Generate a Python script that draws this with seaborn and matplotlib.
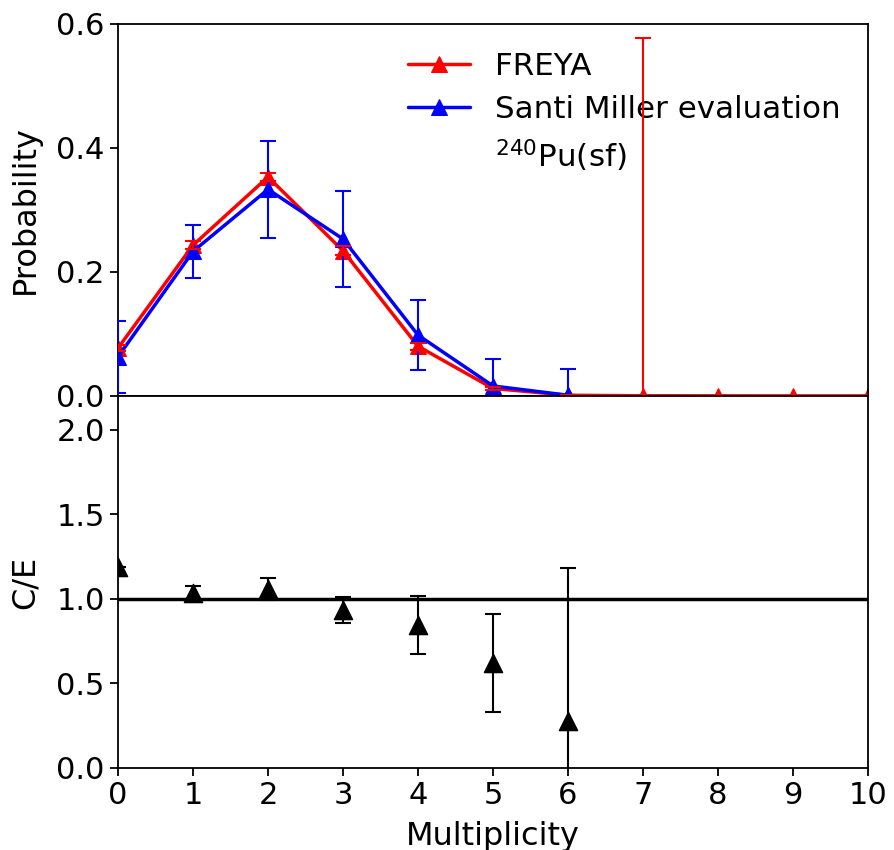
import numpy as np
import pandas as pd
import matplotlib
matplotlib.use("Agg")
import matplotlib.pyplot as plt
from matplotlib.lines import Line2D
import seaborn as sns

# data
mult = [0, 1, 2, 3, 4, 5, 6, 7, 8, 9, 10]
freya = [0.077, 0.243, 0.353, 0.234, 0.080, 0.012, 0.001, 0.0002, 0.0001, 0.0, 0.0]
freya_err = [0.005, 0.006, 0.006, 0.007, 0.006, 0.002, 0.001, 0.577, 0.0005, 0.0003, 0.0002]

mult_sm = [0, 1, 2, 3, 4, 5, 6]
santi = [0.063, 0.233, 0.333, 0.253, 0.098, 0.016, 0.001]
santi_err = [0.058, 0.043, 0.078, 0.077, 0.056, 0.044, 0.043]

ce = [1.19, 1.037, 1.056, 0.934, 0.843, 0.621, 0.275]
ce_err = [0.0, 0.04, 0.065, 0.076, 0.172, 0.29, 0.905]

sns.set_style("ticks", {"axes.edgecolor": "black", "xtick.color": "black",
                        "ytick.color": "black", "text.color": "black",
                        "axes.labelcolor": "black"})
plt.rcParams['font.family'] = ['DejaVu Sans']
plt.rcParams['axes.linewidth'] = 1.3
plt.rcParams['xtick.major.width'] = 1.3
plt.rcParams['ytick.major.width'] = 1.3
plt.rcParams['xtick.major.size'] = 6
plt.rcParams['ytick.major.size'] = 6

fig, (ax1, ax2) = plt.subplots(2, 1, figsize=(8.94, 8.5), dpi=100, sharex=True)
fig.subplots_adjust(left=0.132, right=0.971, bottom=0.0965, top=0.972, hspace=0)

# top panel: probability distributions
sns.lineplot(x=mult, y=freya, ax=ax1, color='red', linewidth=2.5, marker='^',
             markersize=12, markeredgecolor='red', label='FREYA')
ax1.errorbar(mult, freya, yerr=freya_err, fmt='none', ecolor='red',
             elinewidth=1.5, capsize=6, capthick=1.5, zorder=6)
sns.lineplot(x=mult_sm, y=santi, ax=ax1, color='blue', linewidth=2.5, marker='^',
             markersize=12, markeredgecolor='blue', label='Santi Miller evaluation')
ax1.errorbar(mult_sm, santi, yerr=santi_err, fmt='none', ecolor='blue',
             elinewidth=1.5, capsize=6, capthick=1.5, zorder=3)

handles, labels = ax1.get_legend_handles_labels()
handles.append(Line2D([], [], linestyle='none'))
labels.append(r'$^{240}$Pu(sf)')
ax1.legend(handles, labels, loc='upper right', frameon=False, fontsize=22.3,
           handlelength=2.0, labelspacing=0.45)

ax1.set_ylim(0, 0.6)
ax1.set_yticks([0.0, 0.2, 0.4, 0.6])
ax1.set_ylabel('Probability', fontsize=23, labelpad=11)
ax1.tick_params(axis='x', bottom=False, labelbottom=False)
ax1.tick_params(axis='y', labelsize=22)

# bottom panel: C/E ratio
ax2.axhline(1.0, color='black', linewidth=2.5, zorder=1)
ax2.errorbar(mult_sm, ce, yerr=ce_err, fmt='none', ecolor='black',
             elinewidth=1.5, capsize=6, capthick=1.5, zorder=3)
sns.scatterplot(x=mult_sm, y=ce, ax=ax2, color='black', marker='^', s=170,
                edgecolor='black', zorder=4, legend=False)

ax2.set_ylim(0, 2.2)
ax2.set_yticks([0.0, 0.5, 1.0, 1.5, 2.0])
ax2.set_xlim(0, 10)
ax2.set_xticks(range(0, 11))
ax2.set_ylabel('C/E', fontsize=23, labelpad=11)
ax2.set_xlabel('Multiplicity', fontsize=23, labelpad=8)
ax2.tick_params(labelsize=22)

fig.savefig('out.png', dpi=100)
